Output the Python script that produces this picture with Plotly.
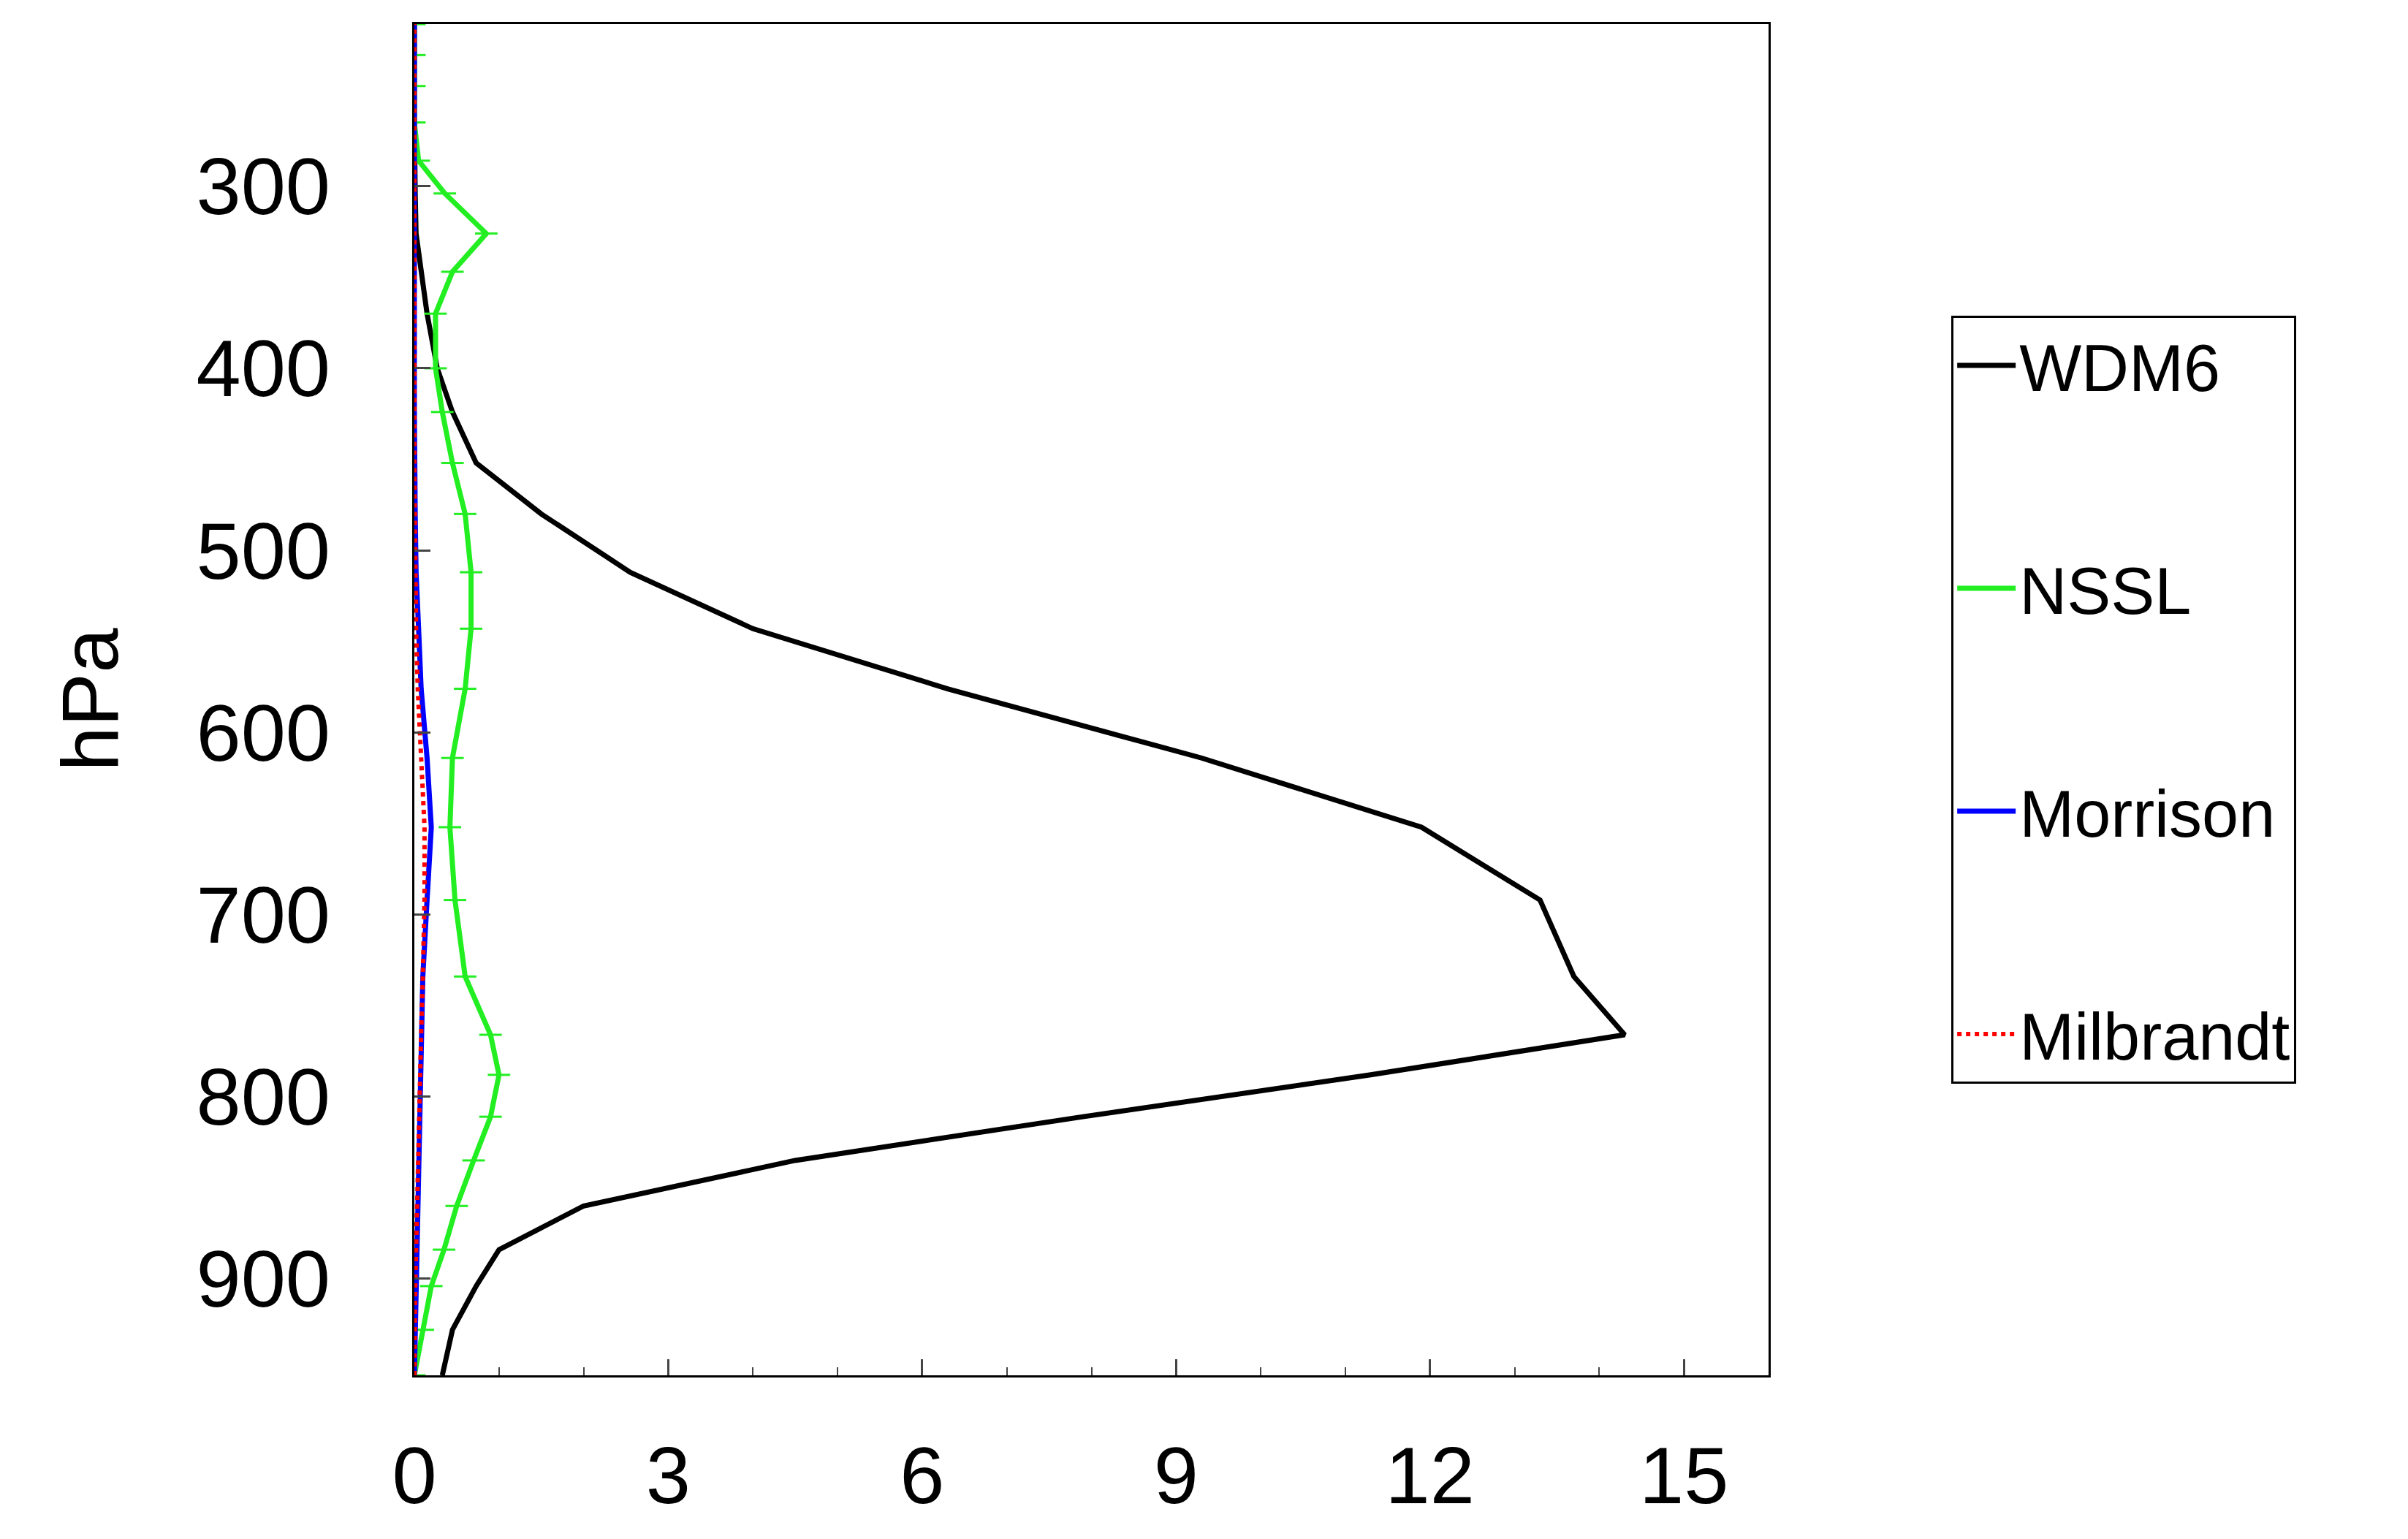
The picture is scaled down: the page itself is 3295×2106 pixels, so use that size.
import plotly.graph_objects as go

levels = [953, 928, 904, 884, 860, 835, 811, 788, 766, 734, 692, 652, 614, 576, 543,
          512, 480, 452, 424, 400, 370, 347, 326, 304, 286, 265, 245, 228, 211]
wdm6 = [0.33, 0.45, 0.73, 1.0, 2.0, 4.5, 7.9, 11.3, 14.3, 13.7, 13.3, 11.9, 9.3, 6.3, 4.0,
        2.55, 1.5, 0.73, 0.45, 0.27, 0.15, 0.08, 0.02, 0.01, 0, 0, 0, 0, 0]
nssl = [0, 0.1, 0.2, 0.35, 0.5, 0.7, 0.9, 1.0, 0.9, 0.6, 0.48, 0.42, 0.45, 0.6, 0.67,
        0.67, 0.6, 0.45, 0.33, 0.25, 0.25, 0.45, 0.85, 0.36, 0.05, 0, 0, 0, 0]
morrison = [0, 0.01, 0.02, 0.03, 0.04, 0.05, 0.06, 0.07, 0.08, 0.1, 0.15, 0.2, 0.15, 0.08, 0.05,
            0.02, 0.01, 0, 0, 0, 0, 0, 0, 0, 0, 0, 0, 0, 0]
milbrandt = [0, 0, 0.01, 0.02, 0.03, 0.04, 0.05, 0.06, 0.08, 0.1, 0.12, 0.12, 0.08, 0.04, 0.02,
             0.01, 0, 0, 0, 0, 0, 0, 0, 0, 0, 0, 0, 0, 0]
x_ticks = [0, 3, 6, 9, 12, 15]
y_ticks = [300, 400, 500, 600, 700, 800, 900]

fig = go.Figure()
fig.add_trace(go.Scatter(x=wdm6, y=levels, mode="lines", name="WDM6", legendgroup="a",
                         line=dict(color="black", width=7)))
fig.add_trace(go.Scatter(x=nssl, y=levels, mode="lines+markers", name="NSSL", legendgroup="b",
                         line=dict(color="#22ee22", width=7),
                         marker=dict(symbol="line-ew", size=22, line=dict(color="#22ee22", width=3))))
fig.add_trace(go.Scatter(x=morrison, y=levels, mode="lines", name="Morrison", legendgroup="c",
                         line=dict(color="#0000ff", width=7)))
fig.add_trace(go.Scatter(x=milbrandt, y=levels, mode="lines", name="Milbrandt", legendgroup="d",
                         line=dict(color="#ff0000", width=6, dash="dot")))

fig.update_layout(
    width=3295, height=2106, plot_bgcolor="white", paper_bgcolor="white",
    font=dict(family="Liberation Sans", size=110, color="black"),
    margin=dict(l=559, r=3295 - 2412, t=25, b=2106 - 1874),
    legend=dict(x=1.135, y=0.5, xanchor="left", yanchor="middle", bordercolor="black",
                borderwidth=3, font=dict(size=90), tracegroupgap=185, itemwidth=80),
    xaxis=dict(range=[0, 16], tickvals=x_ticks, ticks="inside", ticklen=22, tickwidth=3,
               minor=dict(dtick=1, ticks="inside", ticklen=11, tickwidth=2),
               showline=True, linecolor="black", linewidth=3, mirror=True, showgrid=False,
               zeroline=False, tickfont=dict(size=110), ticklabelstandoff=40),
    yaxis=dict(range=[953, 211], tickvals=y_ticks, ticks="inside", ticklen=22, tickwidth=3,
               showline=True, linecolor="black", linewidth=3, mirror=True, showgrid=False,
               zeroline=False, tickfont=dict(size=110), ticklabelstandoff=90,
               title=dict(text="hPa", font=dict(size=110), standoff=70)),
)
fig.write_html("out.html")
